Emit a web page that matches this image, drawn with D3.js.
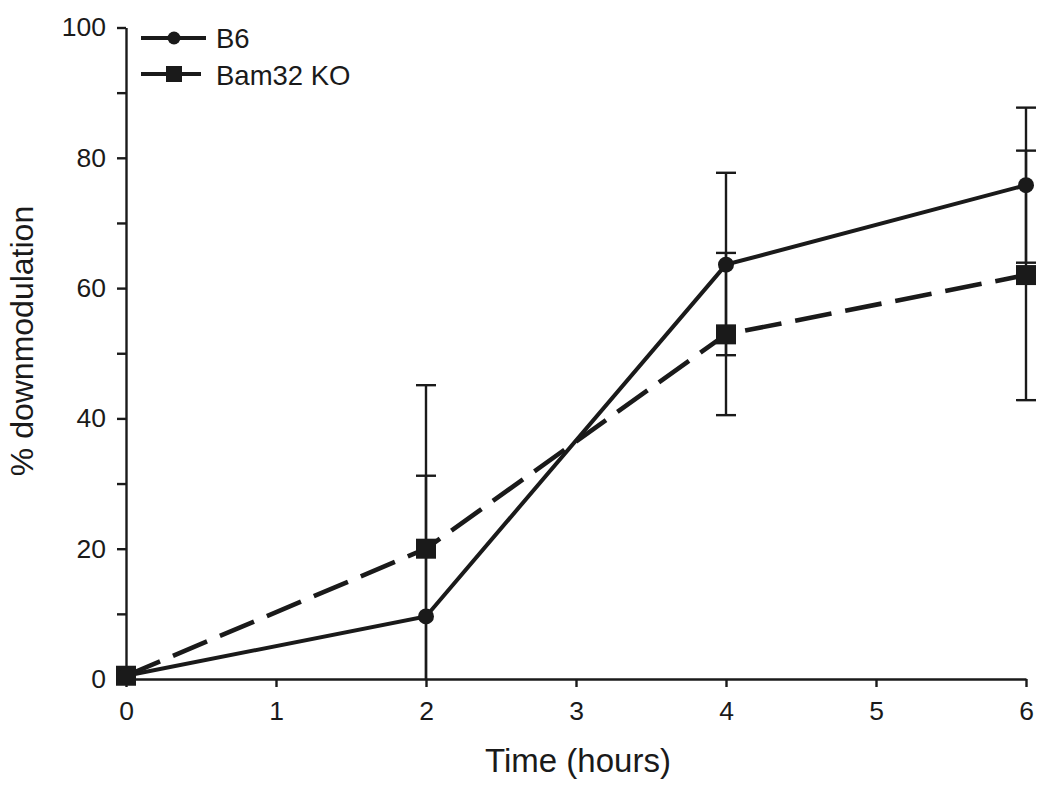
<!DOCTYPE html>
<html>
<head>
<meta charset="utf-8">
<script src="https://cdn.jsdelivr.net/npm/d3@7"></script>
<style>
  html, body { margin: 0; padding: 0; background: #fff; }
  text { font-family: "Liberation Sans", Arial, sans-serif; fill: #1a1a1a; }
</style>
</head>
<body>
<svg id="chart" width="1050" height="789"></svg>
<script>
// ---- data ----
const hours = [0, 2, 4, 6];
const b6Mean = [0.5, 9.6, 63.6, 75.8];
const b6Upper = [null, 31.2, 77.7, 87.7];
const b6Lower = [null, 0, 49.7, 63.9];
const koMean = [0.5, 20.0, 52.9, 62.0];
const koUpper = [null, 45.1, 65.4, 81.1];
const koLower = [null, 0, 40.5, 42.8];
const seriesNames = ["B6", "Bam32 KO"];
const xTicks = [0, 1, 2, 3, 4, 5, 6];
const yMajorTicks = [0, 20, 40, 60, 80, 100];
const yMinorTicks = [10, 30, 50, 70, 90];
const xTitle = "Time (hours)";
const yTitle = "% downmodulation";

// ---- layout ----
const svg = d3.select("#chart");
const ink = "#1a1a1a";
const x = d3.scaleLinear().domain([0, 6]).range([126, 1026]);
const y = d3.scaleLinear().domain([0, 100]).range([679, 27.5]);

// axes
const xAxis = d3.axisBottom(x).tickValues(xTicks).tickFormat(d3.format("d")).tickSizeInner(8).tickSizeOuter(0).tickPadding(14);
const gx = svg.append("g").attr("transform", `translate(0,${y(0)})`).call(xAxis);
gx.select(".domain").attr("stroke", ink).attr("stroke-width", 2.4);
gx.selectAll(".tick line").attr("stroke", ink).attr("stroke-width", 2.4);
gx.selectAll(".tick text").attr("font-size", 26.5).attr("fill", ink).attr("dy", "0.72em");

const yAxis = d3.axisLeft(y).tickValues(yMajorTicks).tickFormat(d3.format("d")).tickSizeInner(9).tickSizeOuter(0).tickPadding(11);
const gy = svg.append("g").attr("transform", `translate(${x(0)},0)`).call(yAxis);
gy.select(".domain").attr("stroke", ink).attr("stroke-width", 2.4);
gy.selectAll(".tick line").attr("stroke", ink).attr("stroke-width", 2.4);
gy.selectAll(".tick text").attr("font-size", 26.5).attr("fill", ink);

const yMinor = d3.axisLeft(y).tickValues(yMinorTicks).tickFormat("").tickSizeInner(9).tickSizeOuter(0);
const gyMinor = svg.append("g").attr("transform", `translate(${x(0)},0)`).call(yMinor);
gyMinor.select(".domain").remove();
gyMinor.selectAll(".tick line").attr("stroke", ink).attr("stroke-width", 2.4);

// titles
svg.append("text").attr("x", 578).attr("y", 772).attr("text-anchor", "middle")
  .attr("font-size", 33).text(xTitle);
svg.append("text").attr("transform", `translate(33,${341}) rotate(-90)`).attr("text-anchor", "middle")
  .attr("font-size", 32).text(yTitle);

// error bars
function errorBars(means, upper, lower) {
  const g = svg.append("g").attr("stroke", ink).attr("stroke-width", 2.4).attr("fill", "none");
  hours.forEach((h, i) => {
    if (upper[i] == null) return;
    const cx = x(h);
    g.append("line").attr("x1", cx).attr("x2", cx).attr("y1", y(lower[i])).attr("y2", y(upper[i]));
    g.append("line").attr("x1", cx - 10).attr("x2", cx + 10).attr("y1", y(upper[i])).attr("y2", y(upper[i]));
    if (lower[i] > 0) {
      g.append("line").attr("x1", cx - 10).attr("x2", cx + 10).attr("y1", y(lower[i])).attr("y2", y(lower[i]));
    }
  });
}
errorBars(b6Mean, b6Upper, b6Lower);
errorBars(koMean, koUpper, koLower);

const line = d3.line().x((d, i) => x(hours[i])).y(d => y(d));

// KO dashed line
svg.append("path").datum(koMean).attr("d", line).attr("fill", "none")
  .attr("stroke", ink).attr("stroke-width", 4.6).attr("stroke-dasharray", "37,14");
// B6 solid line
svg.append("path").datum(b6Mean).attr("d", line).attr("fill", "none")
  .attr("stroke", ink).attr("stroke-width", 4);

// markers
svg.append("g").selectAll("rect").data(koMean).join("rect")
  .attr("x", (d, i) => x(hours[i]) - 10).attr("y", d => y(d) - 10)
  .attr("width", 20).attr("height", 20).attr("fill", ink);
svg.append("g").selectAll("circle").data(b6Mean).join("circle")
  .attr("cx", (d, i) => x(hours[i])).attr("cy", d => y(d)).attr("r", 8).attr("fill", ink);

// legend
const leg = svg.append("g");
leg.append("line").attr("x1", 141).attr("x2", 206).attr("y1", 38).attr("y2", 38)
  .attr("stroke", ink).attr("stroke-width", 3.8);
leg.append("circle").attr("cx", 174).attr("cy", 38).attr("r", 6.5).attr("fill", ink);
leg.append("text").attr("x", 216).attr("y", 48).attr("font-size", 27.5).text(seriesNames[0]);
leg.append("line").attr("x1", 141).attr("x2", 201).attr("y1", 74).attr("y2", 74)
  .attr("stroke", ink).attr("stroke-width", 3.8);
leg.append("rect").attr("x", 166).attr("y", 66).attr("width", 16).attr("height", 16).attr("fill", ink);
leg.append("text").attr("x", 216).attr("y", 84.5).attr("font-size", 27.5).text(seriesNames[1]);
</script>
</body>
</html>
